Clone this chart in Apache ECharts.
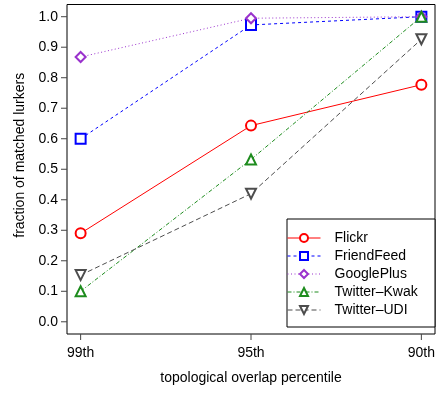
<!DOCTYPE html>
<html>
<head>
<meta charset="UTF-8">
<title>lurkers</title>
<script src="https://cdn.jsdelivr.net/npm/echarts@6/dist/echarts.min.js"></script>
<style>
  html, body { margin: 0; padding: 0; background: #fff; }
  #main { width: 443px; height: 393px; }
</style>
</head>
<body>
<div id="main"></div>
<script>
// data
var percentiles = ['99th', '95th', '90th'];
var xTicks = [0, 1, 2];
var yTicks = [0, 0.1, 0.2, 0.3, 0.4, 0.5, 0.6, 0.7, 0.8, 0.9, 1.0];
var flickr = [0.29, 0.643, 0.777];
var friendFeed = [0.60, 0.973, 1.0];
var googlePlus = [0.868, 0.995, 1.0];
var twitterKwak = [0.10, 0.532, 1.0];
var twitterUdi = [0.153, 0.42, 0.926];

var font = 'Liberation Sans, Arial, sans-serif';
var xMin = -0.08, xMax = 2.08, yMin = -0.04, yMax = 1.04;

function pts(arr) {
    var out = [];
    for (var i = 0; i < arr.length; i++) out.push([i, arr[i]]);
    return out;
}

function mk(name, data, color, symbol, dash, rot) {
    return {
        name: name,
        type: 'line',
        data: pts(data),
        symbol: symbol,
        symbolSize: 10,
        symbolRotate: rot || 0,
        showSymbol: true,
        lineStyle: { color: color, width: 1, type: dash },
        itemStyle: { color: color, borderColor: color, borderWidth: 1 },
        emphasis: { disabled: true }
    };
}

// outward tick marks, placed through the axis scales
function tickSeries(data, vertical) {
    return {
        type: 'custom',
        silent: true,
        clip: false,
        z: 5,
        data: data,
        renderItem: function (params, api) {
            var p = api.coord([api.value(0), api.value(1)]);
            var shape = vertical
                ? { x1: p[0], y1: p[1], x2: p[0], y2: p[1] + 6 }
                : { x1: p[0] - 6, y1: p[1], x2: p[0], y2: p[1] };
            return { type: 'line', shape: shape, style: { stroke: '#444', lineWidth: 1 } };
        }
    };
}

var myChart = echarts.init(document.getElementById('main'));
var option = {
    animation: false,
    grid: {
        left: 67, top: 4.5, right: 8, bottom: 59,
        show: true, borderColor: '#000', borderWidth: 1, backgroundColor: 'transparent'
    },
    xAxis: {
        type: 'value',
        min: xMin, max: xMax,
        name: 'topological overlap percentile',
        nameLocation: 'middle',
        nameGap: 37,
        nameTextStyle: { fontFamily: font, fontSize: 14, color: '#000' },
        axisLine: { show: false, onZero: false },
        splitLine: { show: false },
        axisTick: { show: false },
        axisLabel: {
            customValues: xTicks,
            margin: 12,
            fontFamily: font, fontSize: 14, color: '#000',
            formatter: function (v) { return percentiles[Math.round(v)]; }
        }
    },
    yAxis: {
        type: 'value',
        min: yMin, max: yMax,
        name: 'fraction of matched lurkers',
        nameLocation: 'middle',
        nameGap: 33,
        nameTextStyle: { fontFamily: font, fontSize: 14, color: '#000', padding: [0, 0, 0, 28] },
        axisLine: { show: false, onZero: false },
        splitLine: { show: false },
        axisTick: { show: false },
        axisLabel: {
            customValues: yTicks,
            margin: 9,
            fontFamily: font, fontSize: 14, color: '#000',
            formatter: function (v) { return v.toFixed(1); }
        }
    },
    legend: {
        orient: 'vertical',
        left: 287, top: 231,
        padding: 0,
        itemWidth: 33, itemHeight: 10, itemGap: 4,
        selectedMode: false,
        lineStyle: { width: 1 },
        textStyle: { fontFamily: font, fontSize: 14, color: '#000', padding: [0, 0, 0, 9] },
        data: ['Flickr', 'FriendFeed', 'GooglePlus', 'Twitter–Kwak', 'Twitter–UDI']
    },
    graphic: [{
        type: 'rect',
        shape: { x: 287, y: 219, width: 148, height: 108 },
        style: { fill: '#fff', stroke: '#000', lineWidth: 1 },
        z: 0
    }],
    series: [
        mk('Flickr', flickr, '#ff0000', 'emptyCircle', 'solid'),
        mk('FriendFeed', friendFeed, '#0000ff', 'emptyRect', [3, 3]),
        mk('GooglePlus', googlePlus, '#9a32cd', 'emptyDiamond', [1, 2.5]),
        mk('Twitter–Kwak', twitterKwak, '#1e8c1e', 'emptyTriangle', [4, 2, 1, 2]),
        mk('Twitter–UDI', twitterUdi, '#4d4d4d', 'emptyTriangle', [5, 3], 180),
        tickSeries(yTicks.map(function (v) { return [xMin, v]; }), false),
        tickSeries(xTicks.map(function (v) { return [v, yMin]; }), true)
    ]
};
myChart.setOption(option);
</script>
</body>
</html>
